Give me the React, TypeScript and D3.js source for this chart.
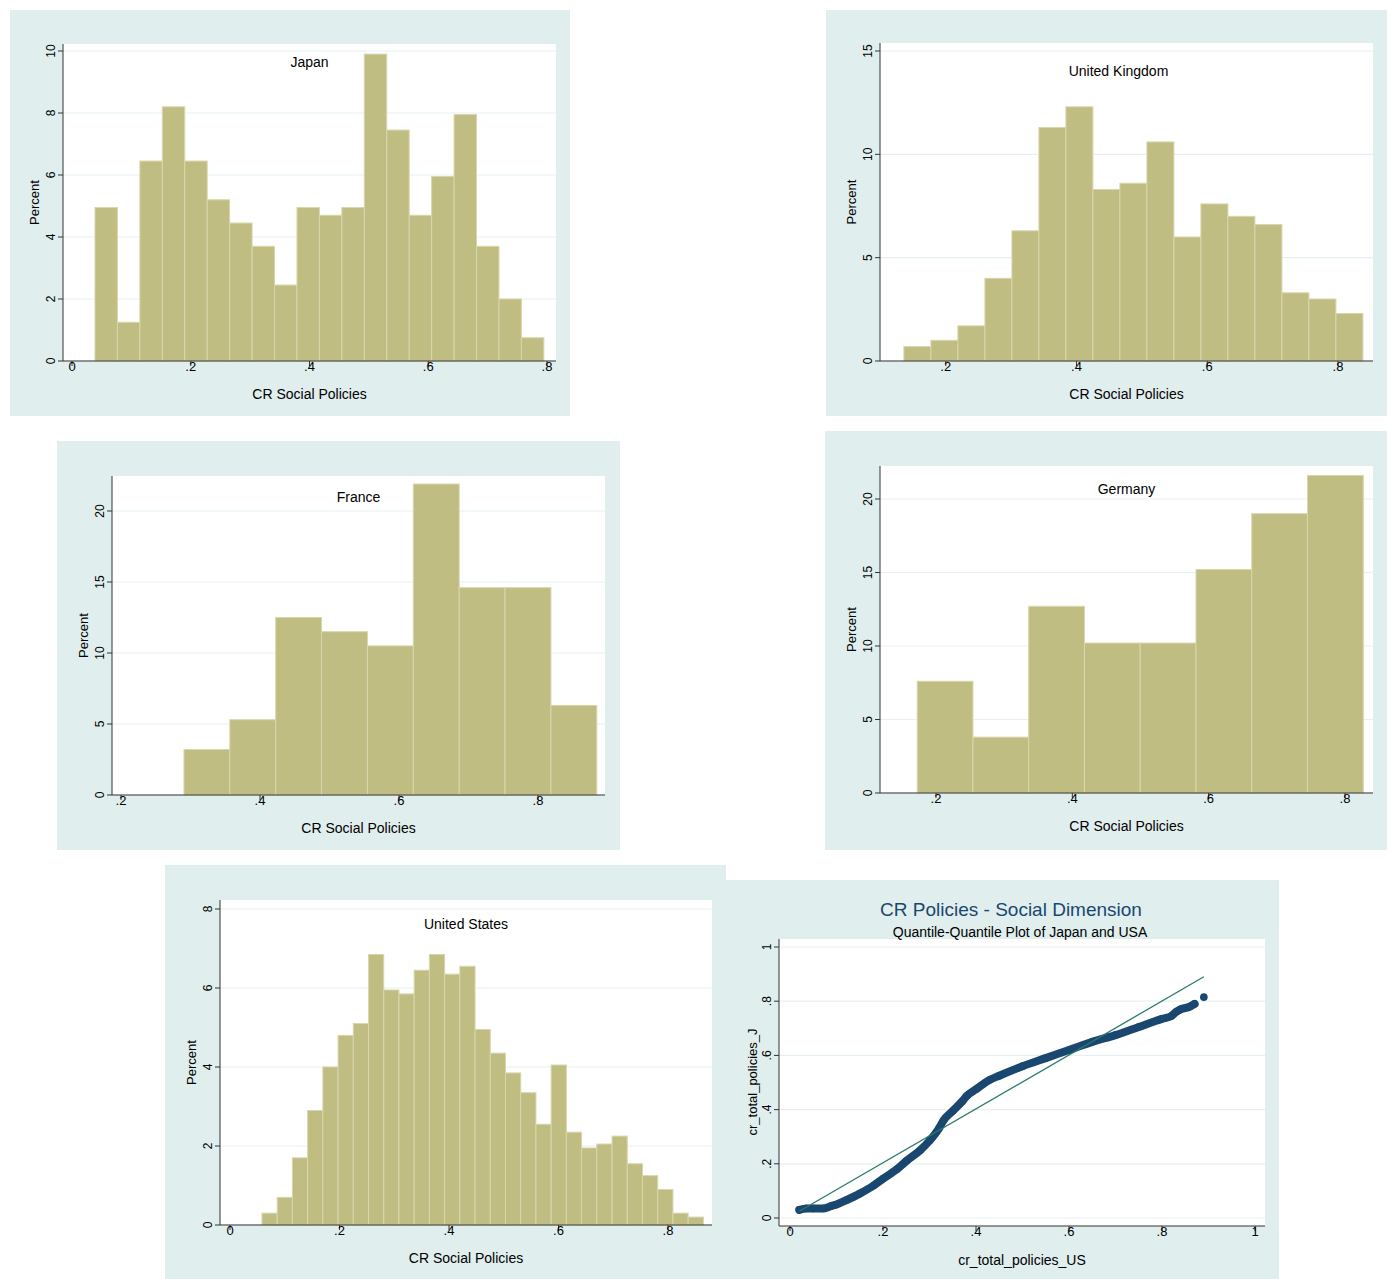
import * as d3 from "d3";

// histogram percentages
const japanValues = [4.95, 1.25, 6.45, 8.2, 6.45, 5.2, 4.45, 3.7, 2.45, 4.95, 4.7, 4.95, 9.9, 7.45, 4.7, 5.95, 7.95, 3.7, 2.0, 0.75];
const ukValues = [0.7, 1.0, 1.7, 4.0, 6.3, 11.3, 12.3, 8.3, 8.6, 10.6, 6.0, 7.6, 7.0, 6.6, 3.3, 3.0, 2.3];
const franceValues = [3.2, 5.3, 12.5, 11.5, 10.5, 21.9, 14.6, 14.6, 6.3];
const germanyValues = [7.6, 3.8, 12.7, 10.2, 10.2, 15.2, 19.0, 21.6];
const usValues = [0.3, 0.7, 1.7, 2.9, 4.0, 4.8, 5.1, 6.85, 5.95, 5.85, 6.45, 6.85, 6.35, 6.55, 4.95, 4.35, 3.85, 3.35, 2.55, 4.05, 2.35, 1.95, 2.05, 2.25, 1.55, 1.25, 0.9, 0.3, 0.2];

// quantile pairs (US, Japan)
const qqUS = [0.02, 0.035, 0.05, 0.07, 0.09, 0.1, 0.12, 0.15, 0.18, 0.2, 0.23, 0.25, 0.28, 0.3, 0.32, 0.33, 0.35, 0.37, 0.38, 0.4, 0.43, 0.45, 0.5, 0.55, 0.6, 0.65, 0.7, 0.75, 0.8, 0.82, 0.83, 0.84, 0.86, 0.87, 0.89];
const qqJ = [0.03, 0.035, 0.035, 0.035, 0.045, 0.05, 0.065, 0.09, 0.12, 0.145, 0.18, 0.21, 0.25, 0.285, 0.33, 0.36, 0.395, 0.43, 0.45, 0.475, 0.51, 0.525, 0.56, 0.59, 0.62, 0.65, 0.675, 0.705, 0.735, 0.745, 0.76, 0.77, 0.78, 0.79, 0.815];

const FONT = "Liberation Sans, Arial, sans-serif";
const BG = "#e0eeee";
const GRID = "#e6f0f1";
const BAR = "#c0bd82";

type HistProps = {
  bg: [number, number, number, number];
  plot: [number, number, number, number];
  xDomain: [number, number]; xRange: [number, number];
  yDomain: [number, number]; yRange: [number, number];
  xTicks: number[]; yTicks: number[];
  values: number[]; start: number; width: number;
  title: string; titleY: number; titleDx?: number;
};

const fmt = (v: number) => (v === 0 ? "0" : v >= 1 ? String(v) : String(v).replace(/^0/, ""));

function Hist(p: HistProps) {
  const x = d3.scaleLinear().domain(p.xDomain).range(p.xRange);
  const y = d3.scaleLinear().domain(p.yDomain).range(p.yRange);
  const [l, t, r, b] = p.plot;
  return (
    <g>
      <rect x={p.bg[0]} y={p.bg[1]} width={p.bg[2] - p.bg[0]} height={p.bg[3] - p.bg[1]} fill={BG} />
      <rect x={l} y={t} width={r - l} height={b - t} fill="white" />
      {p.yTicks.map((v) => (
        <line key={"g" + v} x1={l} x2={r} y1={y(v)} y2={y(v)} stroke={GRID} strokeWidth={1.2} />
      ))}
      {p.values.map((v, i) => (
        <rect key={i} x={x(p.start + i * p.width)} y={y(v)}
          width={x(p.start + (i + 1) * p.width) - x(p.start + i * p.width)}
          height={y(0) - y(v)} fill={BAR} stroke="#d8d6ac" strokeWidth={1} />
      ))}
      <line x1={l} x2={r} y1={b} y2={b} stroke="#333" />
      <line x1={l} x2={l} y1={t} y2={b} stroke="#333" />
      {p.yTicks.map((v) => (
        <g key={"y" + v}>
          <line x1={l - 5} x2={l} y1={y(v)} y2={y(v)} stroke="#333" />
          <text transform={`translate(${l - 8},${y(v)}) rotate(-90)`} textAnchor="middle" fontSize={12} fontFamily={FONT}>{fmt(v)}</text>
        </g>
      ))}
      {p.xTicks.map((v) => (
        <g key={"x" + v}>
          <line x1={x(v)} x2={x(v)} y1={b} y2={b + 5} stroke="#333" />
          <text x={x(v)} y={b + 10} textAnchor="middle" fontSize={13} fontFamily={FONT}>{fmt(v)}</text>
        </g>
      ))}
      <text x={(l + r) / 2} y={b + 38} textAnchor="middle" fontSize={14} fontFamily={FONT}>CR Social Policies</text>
      <text transform={`translate(${l - 24},${(t + b) / 2}) rotate(-90)`} textAnchor="middle" fontSize={13} fontFamily={FONT}>Percent</text>
      <text x={(l + r) / 2 + (p.titleDx || 0)} y={p.titleY} textAnchor="middle" fontSize={14} fontFamily={FONT}>{p.title}</text>
    </g>
  );
}

function QQ() {
  const x = d3.scaleLinear().domain([0, 1]).range([790, 1255]);
  const y = d3.scaleLinear().domain([0, 1]).range([1218, 947]);
  const [l, t, r, b] = [779, 939, 1265, 1226];
  const pts = qqUS.map((u, i) => [u, qqJ[i]] as [number, number]);
  const path = d3.line<[number, number]>().x((d) => x(d[0])).y((d) => y(d[1])).curve(d3.curveMonotoneX)(pts.slice(0, -1)) || "";
  const yTicks = [0, 0.2, 0.4, 0.6, 0.8, 1];
  return (
    <g>
      <rect x={726} y={880} width={553} height={399} fill={BG} />
      <rect x={l} y={t} width={r - l} height={b - t} fill="white" />
      {yTicks.map((v) => (
        <line key={"g" + v} x1={l} x2={r} y1={y(v)} y2={y(v)} stroke={GRID} strokeWidth={1.2} />
      ))}
      <path d={path} fill="none" stroke="#1a476f" strokeWidth={8} strokeLinecap="round" />
      {pts.map((d, i) => (
        <circle key={i} cx={x(d[0])} cy={y(d[1])} r={3.8} fill="#1a476f" />
      ))}
      <line x1={x(0.02)} y1={y(0.025)} x2={x(0.89)} y2={y(0.89)} stroke="#2a7a6a" strokeWidth={1.3} />
      <line x1={l} x2={r} y1={b} y2={b} stroke="#333" />
      <line x1={l} x2={l} y1={t} y2={b} stroke="#333" />
      {yTicks.map((v) => (
        <g key={"y" + v}>
          <line x1={l - 5} x2={l} y1={y(v)} y2={y(v)} stroke="#333" />
          <text transform={`translate(${l - 8},${y(v)}) rotate(-90)`} textAnchor="middle" fontSize={12} fontFamily={FONT}>{fmt(v)}</text>
        </g>
      ))}
      {yTicks.map((v) => (
        <g key={"x" + v}>
          <line x1={x(v)} x2={x(v)} y1={b} y2={b + 5} stroke="#333" />
          <text x={x(v)} y={b + 10} textAnchor="middle" fontSize={13} fontFamily={FONT}>{fmt(v)}</text>
        </g>
      ))}
      <text x={1022} y={1265} textAnchor="middle" fontSize={14} fontFamily={FONT}>cr_total_policies_US</text>
      <text transform={`translate(757,1082) rotate(-90)`} textAnchor="middle" fontSize={13} fontFamily={FONT}>cr_total_policies_J</text>
      <text x={1011} y={916} textAnchor="middle" fontSize={19} fill="#1a476f" fontFamily={FONT}>CR Policies - Social Dimension</text>
      <text x={1020} y={937} textAnchor="middle" fontSize={14} fontFamily={FONT}>Quantile-Quantile Plot of Japan and USA</text>
    </g>
  );
}

export default function App() {
  return (
    <svg width={1388} height={1279} style={{ position: "absolute", left: 0, top: 0, background: "white" }}>
      <Hist bg={[10, 10, 570, 416]} plot={[63, 44, 556, 361]} xDomain={[0, 0.8]} xRange={[72, 547]}
        yDomain={[0, 10]} yRange={[361, 51]} xTicks={[0, 0.2, 0.4, 0.6, 0.8]} yTicks={[0, 2, 4, 6, 8, 10]}
        values={japanValues} start={0.0387} width={0.0378} title="Japan" titleY={67} />
      <Hist bg={[826, 10, 1387, 416]} plot={[880, 43, 1373, 361]} xDomain={[0, 0.8]} xRange={[815, 1338]}
        yDomain={[0, 15]} yRange={[361, 51]} xTicks={[0.2, 0.4, 0.6, 0.8]} yTicks={[0, 5, 10, 15]}
        values={ukValues} start={0.136} width={0.0413} title="United Kingdom" titleY={76} titleDx={-8} />
      <Hist bg={[57, 441, 620, 850]} plot={[112, 476, 605, 795]} xDomain={[0.2, 0.8]} xRange={[121, 538]}
        yDomain={[0, 20]} yRange={[795, 511]} xTicks={[0.2, 0.4, 0.6, 0.8]} yTicks={[0, 5, 10, 15, 20]}
        values={franceValues} start={0.2906} width={0.066} title="France" titleY={502} />
      <Hist bg={[825, 431, 1387, 850]} plot={[880, 466, 1373, 793]} xDomain={[0.2, 0.8]} xRange={[936, 1345]}
        yDomain={[0, 20]} yRange={[793, 499]} xTicks={[0.2, 0.4, 0.6, 0.8]} yTicks={[0, 5, 10, 15, 20]}
        values={germanyValues} start={0.1724} width={0.0818} title="Germany" titleY={494} />
      <Hist bg={[165, 865, 726, 1279]} plot={[220, 900, 712, 1225]} xDomain={[0, 0.8]} xRange={[230, 668]}
        yDomain={[0, 8]} yRange={[1225, 909]} xTicks={[0, 0.2, 0.4, 0.6, 0.8]} yTicks={[0, 2, 4, 6, 8]}
        values={usValues} start={0.0584} width={0.0278} title="United States" titleY={929} />
      <QQ />
    </svg>
  );
}
